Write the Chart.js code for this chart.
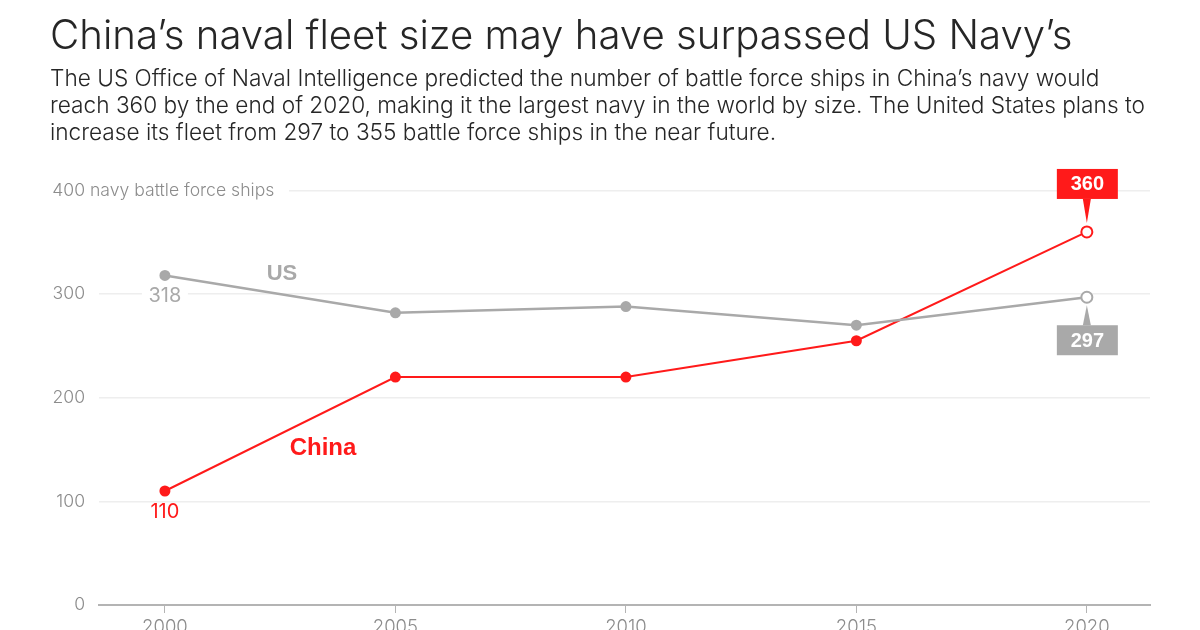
<!DOCTYPE html>
<html>
<head>
<meta charset="utf-8">
<script src="https://cdn.jsdelivr.net/npm/chart.js@4"></script>
<style>
  html, body { margin: 0; width: 1200px; height: 630px; overflow: hidden; background: #fff; }
  body { position: relative; font-family: Inter, sans-serif; }
  #chart { position: absolute; left: 0; top: 0; }
  h1 { position: absolute; left: 50px; top: 12px; margin: 0; font-size: 40.2px; line-height: 46px; font-weight: 300; color: #262626; white-space: nowrap; }
  p { position: absolute; left: 50px; top: 64px; margin: 0; font-size: 22.65px; line-height: 27px; font-weight: 300; color: #262626; white-space: nowrap; }
</style>
</head>
<body>
<canvas id="chart" width="1200" height="630"></canvas>
<h1>China’s naval fleet size may have surpassed US Navy’s</h1>
<p>The US Office of Naval Intelligence predicted the number of battle force ships in China’s navy would<br>reach 360 by the end of 2020, making it the largest navy in the world by size. The United States plans to<br>increase its fleet from 297 to 355 battle force ships in the near future.</p>
<script>
const years = [2000, 2005, 2010, 2015, 2020];
const usShips = [318, 282, 288, 270, 297];
const chinaShips = [110, 220, 220, 255, 360];
const yTicks = [0, 100, 200, 300, 400];
const yUnit = 'navy battle force ships';

const RED = '#ff1a1a';
const GRAY = '#a9a9a9';
const TICK_GRAY = '#8c8c8c';
const FONT = 'Inter, sans-serif';
const BOLD_FONT = '"Liberation Sans", sans-serif';

const toPoints = values => values.map((v, i) => ({ x: years[i], y: v }));
const isLast = ctx => ctx.dataIndex === years.length - 1;
const lastIsHollow = color => ctx => isLast(ctx) ? '#fff' : color;
const pointSize = ctx => isLast(ctx) ? 5.5 : 4.5;

// labels, callouts and the white gaps behind text in the gridlines
const annotations = {
    id: 'annotations',
    beforeDatasetsDraw(chart) {
        const { ctx, scales: { x, y } } = chart;
        ctx.save();
        ctx.fillStyle = '#fff';
        ctx.fillRect(x.left - 2, y.getPixelForValue(400) - 3, 291 - x.left, 6);
        ctx.fillRect(x.getPixelForValue(years[0]) - 23, y.getPixelForValue(300) - 3, 46, 6);
        ctx.restore();
    },
    afterDatasetsDraw(chart) {
        const { ctx, scales: { x, y } } = chart;
        const px = v => x.getPixelForValue(v);
        const py = v => y.getPixelForValue(v);
        const last = years.length - 1;
        ctx.save();
        ctx.textBaseline = 'middle';

        ctx.textAlign = 'left';
        ctx.fillStyle = TICK_GRAY;
        ctx.font = '300 17.6px ' + FONT;
        ctx.fillText(yUnit, 90, py(400));

        ctx.textAlign = 'center';
        ctx.font = '20px ' + FONT;
        ctx.fillStyle = GRAY;
        ctx.fillText(usShips[0], px(years[0]), py(usShips[0]) + 21);
        ctx.fillStyle = RED;
        ctx.fillText(chinaShips[0], px(years[0]), py(chinaShips[0]) + 21);

        ctx.font = 'bold 22px ' + BOLD_FONT;
        ctx.fillStyle = GRAY;
        ctx.fillText('US', px(2002.54), py(319));
        ctx.font = 'bold 24px ' + BOLD_FONT;
        ctx.fillStyle = RED;
        ctx.fillText('China', px(2003.43), py(151));

        const cx = px(years[last]);
        const callout = (value, color, boxTop, tipY) => {
            const baseY = tipY < boxTop ? boxTop : boxTop + 30;
            ctx.fillStyle = color;
            ctx.fillRect(cx - 30, boxTop, 61, 30);
            ctx.beginPath();
            ctx.moveTo(cx - 4, baseY);
            ctx.lineTo(cx + 4, baseY);
            ctx.lineTo(cx, tipY);
            ctx.closePath();
            ctx.fill();
            ctx.fillStyle = '#fff';
            ctx.font = 'bold 20px ' + BOLD_FONT;
            ctx.fillText(value, cx + 0.5, boxTop + 16);
        };
        callout(chinaShips[last], RED, py(chinaShips[last]) - 63, py(chinaShips[last]) - 9);
        callout(usShips[last], GRAY, py(usShips[last]) + 28, py(usShips[last]) + 8);
        ctx.restore();
    }
};

new Chart(document.getElementById('chart'), {
    type: 'line',
    data: {
        datasets: [
            {
                label: 'US',
                data: toPoints(usShips),
                borderColor: GRAY,
                backgroundColor: GRAY,
                pointBackgroundColor: lastIsHollow(GRAY),
                pointBorderColor: GRAY,
                pointBorderWidth: 2,
                pointRadius: pointSize,
                borderWidth: 2.5,
                clip: false
            },
            {
                label: 'China',
                data: toPoints(chinaShips),
                borderColor: RED,
                backgroundColor: RED,
                pointBackgroundColor: lastIsHollow(RED),
                pointBorderColor: RED,
                pointBorderWidth: 2,
                pointRadius: pointSize,
                borderWidth: 2,
                clip: false
            }
        ]
    },
    options: {
        responsive: false,
        animation: false,
        layout: { padding: { top: 190.5, right: 50, left: 0, bottom: 0 } },
        plugins: { legend: { display: false }, tooltip: { enabled: false } },
        scales: {
            x: {
                type: 'linear',
                min: 1998.57,
                max: 2021.37,
                afterBuildTicks: scale => { scale.ticks = years.map(v => ({ value: v })); },
                afterFit: scale => { scale.height = 25; },
                grid: { drawOnChartArea: false, tickColor: '#b4b4b4', tickLength: 8, tickWidth: 1 },
                border: { color: '#b4b4b4', width: 2 },
                ticks: {
                    autoSkip: false,
                    maxRotation: 0,
                    padding: 3,
                    color: TICK_GRAY,
                    font: { family: FONT, size: 18.5, weight: 300 },
                    callback: v => String(v)
                }
            },
            y: {
                min: 0,
                max: 400,
                afterBuildTicks: scale => { scale.ticks = yTicks.map(v => ({ value: v })); },
                afterFit: scale => { scale.width = 99; },
                grid: { color: '#eeeeee', lineWidth: 1.5, drawTicks: false },
                border: { display: false },
                ticks: {
                    padding: 14,
                    color: TICK_GRAY,
                    font: { family: FONT, size: 17.6, weight: 300 }
                }
            }
        }
    },
    plugins: [annotations]
});
</script>
</body>
</html>
